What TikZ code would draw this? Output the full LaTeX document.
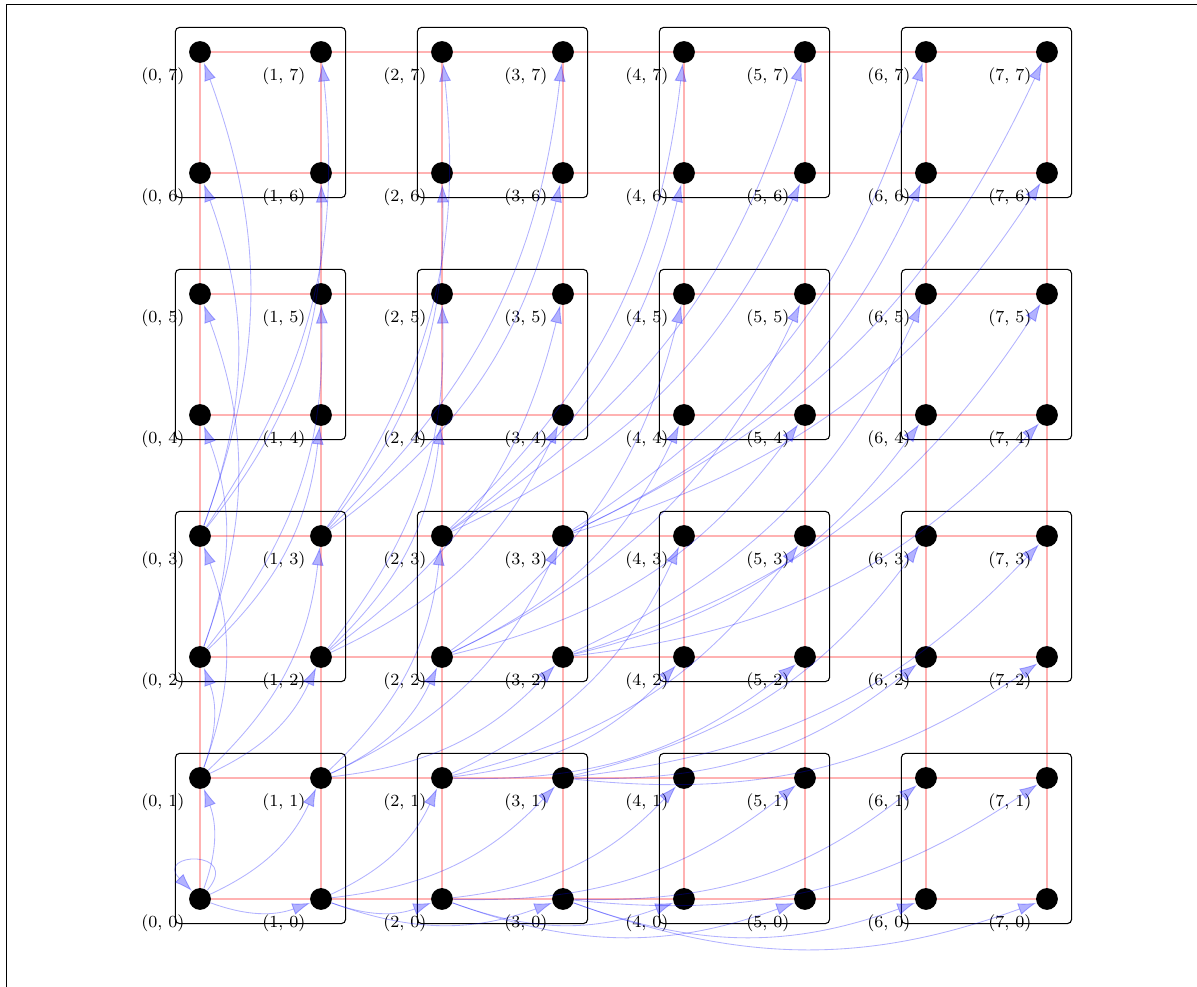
\documentclass[tikz,border=0pt]{standalone}
\usetikzlibrary{arrows.meta, fit, backgrounds}
\begin{document}
\begin{tikzpicture}[x=2cm, y=2cm,
  dot/.style={circle, fill=black, inner sep=0pt, minimum size=3.6mm},
  gridline/.style={red!30, line width=0.9pt},
  block/.style={draw=black, line width=0.5pt, rounded corners=2pt, inner sep=0.22cm},
  quad/.style={blue, opacity=0.3, -{Latex[length=3mm, width=2mm]}}]
\useasboundingbox (-1.653,-0.727) rectangle (8.240,7.430);
\draw (-1.597,-0.727) |- (8.240,7.394);
% lattice points
\foreach \x in {0,...,7}
  \foreach \y in {0,...,7}
    \node[dot, label={[font=\footnotesize]below left:(\x, \y)}] (n-\x-\y) at (\x,\y) {};
% red lattice and 2x2 blocks behind the points
\begin{scope}[on background layer]
\foreach \i in {0,...,7} {
  \draw[gridline] (n-\i-0.center) -- (n-\i-7.center);
  \draw[gridline] (n-0-\i.center) -- (n-7-\i.center);
}
\foreach \i in {0,2,4,6}
  \foreach \j in {0,2,4,6} {
    \pgfmathtruncatemacro\ii{\i+1}
    \pgfmathtruncatemacro\jj{\j+1}
    \node[block, fit=(n-\i-\j)(n-\ii-\jj)] (blk-\i-\j) {};
  }
\end{scope}
% each point (x,y) sends arrows to (2x+a, 2y+b)
\foreach \x in {0,...,3}
  \foreach \y in {0,...,3}
    \foreach \a in {0,1}
      \foreach \b in {0,1} {
        \pgfmathtruncatemacro\cx{2*\x+\a}
        \pgfmathtruncatemacro\cy{2*\y+\b}
        \pgfmathtruncatemacro\same{(\cx==\x)&&(\cy==\y)}
        \ifnum\same=0
          \draw[quad] (n-\x-\y) to[bend right=20] (n-\cx-\cy);
        \fi
      }
\draw[quad] (n-0-0) to[out=50, in=135, min distance=0.9cm] (n-0-0);
\end{tikzpicture}
\end{document}
